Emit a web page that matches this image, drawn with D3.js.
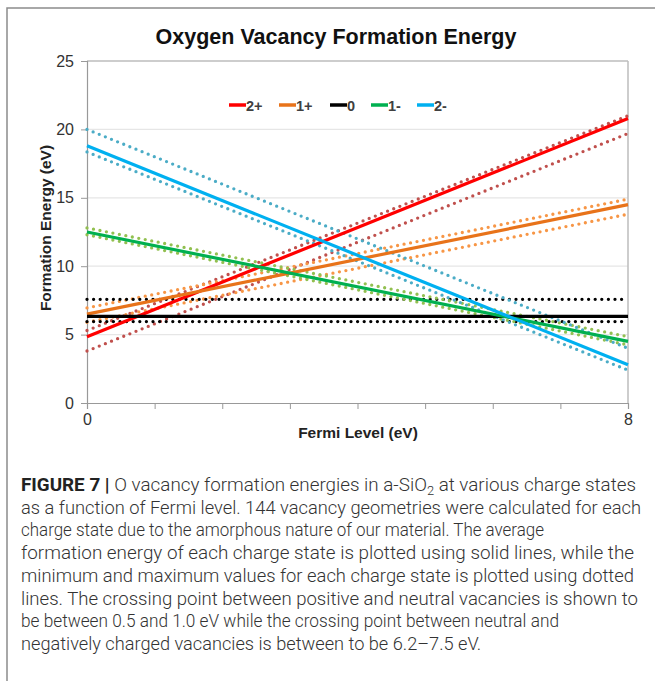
<!DOCTYPE html>
<html><head><meta charset="utf-8">
<script src="https://cdn.jsdelivr.net/npm/d3@7"></script>
<style>html,body{margin:0;padding:0;background:#fff;}svg{display:block;}</style>
</head><body>
<script>
// ---- data ----
const charges = ["2+", "1+", "0", "1-", "2-"];
const fermiRange = [0, 8];
const avgStart = [4.85, 6.5, 6.33, 12.5, 18.8];
const avgEnd   = [20.8, 14.5, 6.33, 4.5, 2.8];
const maxStart = [5.3, 6.95, 7.58, 12.8, 20.0];
const maxEnd   = [21.0, 14.9, 7.58, 4.85, 4.0];
const minStart = [3.8, 5.9, 5.95, 12.3, 18.35];
const minEnd   = [19.7, 13.8, 5.95, 4.25, 2.4];
const yTicks = [0, 5, 10, 15, 20, 25];
const xTickLabels = [0, 8];
const solidColors = ["#ff0000", "#e8731a", "#000000", "#00b050", "#00b0f0"];
const dotColors   = ["#c0504d", "#f79646", "#000000", "#92c050", "#4bacc6"];
const captionLines = [
  "as a function of Fermi level. 144 vacancy geometries were calculated for each",
  "charge state due to the amorphous nature of our material. The average",
  "formation energy of each charge state is plotted using solid lines, while the",
  "minimum and maximum values for each charge state is plotted using dotted",
  "lines. The crossing point between positive and neutral vacancies is shown to",
  "be between 0.5 and 1.0 eV while the crossing point between neutral and",
  "negatively charged vacancies is between to be 6.2\u20137.5 eV."
];
const captionWidths = [620, 523, 613, 613, 617, 538, 460];

const W = 655, H = 681;
const svg = d3.select("body").append("svg").attr("width", W).attr("height", H);

// frame
svg.append("path").attr("d", `M7,${H} L7,8 L${W},8`).attr("fill", "none")
  .attr("stroke", "#8c8c8c").attr("stroke-width", 1.5);

const x = d3.scaleLinear().domain(fermiRange).range([87, 628]);
const y = d3.scaleLinear().domain([0, 25]).range([403, 61]);

// gridlines
svg.append("g").selectAll("line").data(yTicks.filter(d => d > 0)).join("line")
  .attr("x1", x(0)).attr("x2", x(8)).attr("y1", d => y(d)).attr("y2", d => y(d))
  .attr("stroke", d => d === 25 ? "#bdbdbd" : "#e6e6e6").attr("stroke-width", d => d === 25 ? 1.5 : 1.2);
// right border
svg.append("line").attr("x1", x(8)).attr("x2", x(8)).attr("y1", y(25)).attr("y2", y(0))
  .attr("stroke", "#bdbdbd").attr("stroke-width", 1.5);

// axes
const yAxis = d3.axisLeft(y).tickValues(yTicks).tickSize(6).tickPadding(7);
const gy = svg.append("g").attr("transform", `translate(${x(0)},0)`).call(yAxis);
gy.select(".domain").attr("stroke", "#999").attr("stroke-width", 1.2);
gy.selectAll(".tick line").attr("stroke", "#999");
gy.selectAll("text").attr("font-family", "Liberation Sans, Arial, sans-serif").attr("font-size", 16).attr("fill", "#333");

const xAxis = d3.axisBottom(x).ticks(8).tickSize(6).tickPadding(5)
  .tickFormat(d => xTickLabels.includes(d) ? d : "");
const gx = svg.append("g").attr("transform", `translate(0,${y(0)})`).call(xAxis);
gx.select(".domain").attr("stroke", "#999").attr("stroke-width", 1.2);
gx.selectAll(".tick line").attr("stroke", "#999");
gx.selectAll("text").attr("font-family", "Liberation Sans, Arial, sans-serif").attr("font-size", 16).attr("fill", "#333");

// lines
const line = d3.line().x(d => x(d[0])).y(d => y(d[1]));
const plot = svg.append("g");
charges.forEach((c, i) => {
  [[maxStart[i], maxEnd[i]], [minStart[i], minEnd[i]]].forEach(v => {
    plot.append("path").datum([[fermiRange[0], v[0]], [fermiRange[1], v[1]]])
      .attr("d", line).attr("fill", "none").attr("stroke", dotColors[i])
      .attr("stroke-width", 3.3).attr("stroke-linecap", "round").attr("stroke-dasharray", "0 6.6");
  });
});
charges.forEach((c, i) => {
  plot.append("path").datum([[fermiRange[0], avgStart[i]], [fermiRange[1], avgEnd[i]]])
    .attr("d", line).attr("fill", "none").attr("stroke", solidColors[i]).attr("stroke-width", 3.2);
});

// title
svg.append("text").attr("x", 336).attr("y", 44).attr("text-anchor", "middle")
  .attr("font-family", "Liberation Sans, Arial, sans-serif").attr("font-weight", "bold")
  .attr("font-size", 21.5).attr("fill", "#111").text("Oxygen Vacancy Formation Energy");

// legend
const legendX = [229, 279, 330, 371, 417];
const lg = svg.append("g");
charges.forEach((c, i) => {
  lg.append("line").attr("x1", legendX[i]).attr("x2", legendX[i] + 17).attr("y1", 105).attr("y2", 105)
    .attr("stroke", solidColors[i]).attr("stroke-width", 3.5);
  lg.append("text").attr("x", legendX[i] + 17).attr("y", 110.5)
    .attr("font-family", "Liberation Sans, Arial, sans-serif").attr("font-weight", "bold")
    .attr("font-size", 14.5).attr("fill", "#404040").text(c);
});

// axis titles
svg.append("text").attr("transform", "translate(51,228) rotate(-90)").attr("text-anchor", "middle")
  .attr("font-family", "Liberation Sans, Arial, sans-serif").attr("font-weight", "bold")
  .attr("font-size", 15.5).attr("fill", "#222").text("Formation Energy (eV)");
svg.append("text").attr("x", 358).attr("y", 438).attr("text-anchor", "middle")
  .attr("font-family", "Liberation Sans, Arial, sans-serif").attr("font-weight", "bold")
  .attr("font-size", 15.5).attr("fill", "#222").text("Fermi Level (eV)");

// caption
const capFont = "Roboto, Liberation Sans, sans-serif";
const cap = svg.append("g").attr("font-family", capFont).attr("font-size", 17.5).attr("fill", "#333").attr("font-weight", 300);
const t1 = cap.append("text").attr("x", 21).attr("y", 491).attr("textLength", 615).attr("lengthAdjust", "spacingAndGlyphs");
t1.append("tspan").attr("font-weight", "bold").attr("fill", "#222").text("FIGURE 7 | ");
t1.append("tspan").text("O vacancy formation energies in a-SiO");
t1.append("tspan").attr("font-size", 12).attr("dy", 4).text("2");
t1.append("tspan").attr("dy", -4).text(" at various charge states");
captionLines.forEach((s, i) => {
  cap.append("text").attr("x", 21).attr("y", 491 + (i + 1) * 22.7)
    .attr("textLength", captionWidths[i]).attr("lengthAdjust", "spacingAndGlyphs").text(s);
});
</script>
</body></html>
